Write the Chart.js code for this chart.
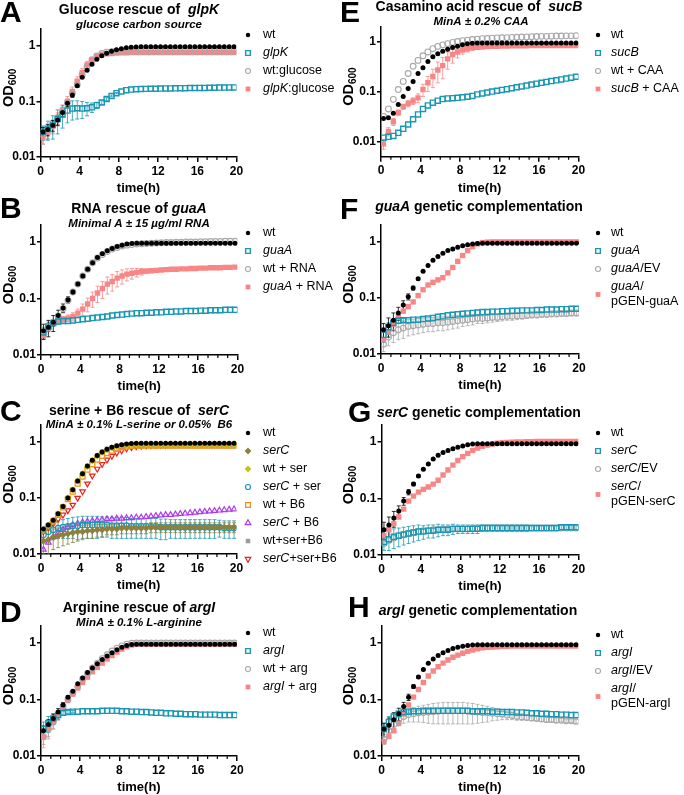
<!DOCTYPE html>
<html><head><meta charset="utf-8">
<script src="https://cdn.jsdelivr.net/npm/chart.js@4.4.1/dist/chart.umd.min.js"></script>
<style>
html,body{margin:0;padding:0;background:#fff;}
#wrap{position:relative;width:684px;height:795px;overflow:hidden;background:#fff;}
canvas{position:absolute;}
</style></head><body><div id="wrap"></div>
<script>
// ---------- shared axis data ----------
const T = [0.25,0.75,1.25,1.75,2.25,2.75,3.25,3.75,4.25,4.75,5.25,5.75,6.25,6.75,7.25,7.75,8.25,8.75,9.25,9.75,
           10.25,10.75,11.25,11.75,12.25,12.75,13.25,13.75,14.25,14.75,15.25,15.75,16.25,16.75,17.25,17.75,18.25,18.75,19.25,19.75];
const X_TICKS = [0,4,8,12,16,20];
const X_MINOR = [1,2,3,5,6,7,9,10,11,13,14,15,17,18,19];
const Y_TICKS = [0.01,0.1,1];
const Y_LABELS = ['0.01','0.1','1'];
const X_TITLE = 'time(h)';

// ---------- Panel A ----------
const A_TITLE = 'Glucose rescue of  <i>glpK</i>';
const A_SUB = 'glucose carbon source';
const A_LABELS = ['wt','<i>glpK</i>','wt:glucose','<i>glpK</i>:glucose'];
const A_wt = [0.028,0.031,0.037,0.046,0.063,0.092,0.13,0.19,0.27,0.36,0.46,0.57,0.66,0.73,0.79,0.84,0.88,0.91,0.93,0.94,
  0.95,0.95,0.95,0.95,0.95,0.95,0.95,0.95,0.95,0.95,0.95,0.95,0.95,0.95,0.95,0.95,0.95,0.95,0.95,0.95];
const A_wt_err = [0.006,0.007,0.008,0.009,0.01,0.012,0.012,0.012,0.01,0.008,0.006,0.005,0.004,0.003];
const A_glpK = [0.028,0.032,0.038,0.048,0.058,0.068,0.074,0.075,0.074,0.075,0.078,0.085,0.095,0.11,0.125,0.14,0.15,0.158,0.162,0.165,
  0.166,0.167,0.168,0.168,0.169,0.17,0.17,0.171,0.172,0.172,0.173,0.173,0.174,0.174,0.175,0.175,0.176,0.176,0.177,0.177];
const A_glpK_err = [0.008,0.012,0.017,0.022,0.025,0.027,0.028,0.027,0.025,0.02,0.015,0.011,0.008,0.006,0.005,0.004];
const A_wtglc = [0.025,0.03,0.036,0.047,0.065,0.095,0.14,0.2,0.3,0.42,0.55,0.65,0.72,0.76,0.78,0.79,0.79,0.79,0.79,0.79,
  0.79,0.79,0.79,0.79,0.79,0.79,0.79,0.79,0.79,0.79,0.79,0.79,0.79,0.79,0.79,0.79,0.79,0.79,0.79,0.79];
const A_wtglc_err = [0.008,0.009,0.01,0.011,0.012,0.013,0.015,0.02,0.03,0.04,0.05,0.05,0.04,0.03,0.02];
const A_glpKglc = [0.022,0.028,0.036,0.05,0.07,0.1,0.15,0.23,0.33,0.45,0.55,0.63,0.68,0.71,0.72,0.73,0.74,0.74,0.75,0.75,
  0.75,0.75,0.75,0.75,0.75,0.75,0.75,0.75,0.75,0.75,0.75,0.75,0.75,0.75,0.75,0.75,0.75,0.75,0.75,0.75];
const A_glpKglc_err = [0.005,0.007,0.009,0.012,0.016,0.022,0.03,0.045,0.06,0.07,0.07,0.06,0.05,0.04,0.03,0.02];

// ---------- Panel B ----------
const B_TITLE = 'RNA rescue of <i>guaA</i>';
const B_SUB = 'Minimal A ± 15 µg/ml RNA';
const B_LABELS = ['wt','<i>guaA</i>','wt + RNA','<i>guaA</i> + RNA'];
const B_wt = [0.027,0.031,0.038,0.05,0.068,0.095,0.13,0.18,0.25,0.33,0.43,0.53,0.62,0.7,0.77,0.83,0.88,0.92,0.94,0.95,
  0.95,0.95,0.95,0.95,0.95,0.95,0.95,0.95,0.95,0.95,0.95,0.95,0.95,0.95,0.95,0.95,0.95,0.95,0.95,0.95];
const B_wt_err = [0.008,0.01,0.012,0.012,0.012,0.012,0.012,0.012,0.01,0.008];
const B_guaA = [0.025,0.032,0.037,0.039,0.04,0.04,0.041,0.042,0.043,0.044,0.045,0.046,0.047,0.048,0.05,0.051,0.052,0.053,0.054,0.055,
  0.055,0.056,0.056,0.057,0.057,0.058,0.058,0.059,0.059,0.06,0.06,0.06,0.061,0.061,0.062,0.062,0.062,0.063,0.063,0.063];
const B_guaA_err = [0.006,0.006,0.005,0.004];
const B_wtRNA = [0.025,0.03,0.037,0.049,0.066,0.092,0.13,0.18,0.25,0.33,0.43,0.52,0.6,0.68,0.75,0.8,0.85,0.88,0.9,0.92,
  0.93,0.94,0.95,0.96,0.97,0.98,0.98,0.99,0.99,1.0,1.0,1.0,1.01,1.01,1.02,1.02,1.02,1.03,1.03,1.03];
const B_guaARNA = [0.022,0.03,0.037,0.04,0.043,0.045,0.048,0.055,0.065,0.08,0.1,0.125,0.15,0.18,0.2,0.23,0.25,0.27,0.28,0.29,
  0.3,0.305,0.31,0.315,0.32,0.325,0.33,0.33,0.335,0.335,0.34,0.34,0.345,0.345,0.35,0.35,0.35,0.355,0.355,0.36];
const B_guaARNA_err = [0.003,0.004,0.004,0.005,0.005,0.006,0.008,0.01,0.015,0.022,0.03,0.04,0.05,0.06,0.065,0.07,0.07,0.065,0.06,0.05,
  0.04,0.03,0.02,0.015,0.012,0.01];

// ---------- Panel C ----------
const C_TITLE = 'serine + B6 rescue of  <i>serC</i>';
const C_SUB = 'MinA ± 0.1% L-serine or 0.05%  B6';
const C_LABELS = ['wt','<i>serC</i>','wt + ser','<i>serC</i> + ser','wt + B6','<i>serC</i> + B6','wt+ser+B6','<i>serC</i>+ser+B6'];
const C_wt = [0.028,0.033,0.04,0.052,0.07,0.1,0.14,0.2,0.27,0.37,0.47,0.57,0.66,0.74,0.8,0.85,0.89,0.92,0.94,0.95,
  0.95,0.95,0.95,0.95,0.95,0.95,0.95,0.95,0.95,0.95,0.95,0.95,0.95,0.95,0.95,0.95,0.95,0.95,0.95,0.95];
const C_serC = [0.017,0.018,0.02,0.021,0.022,0.023,0.024,0.025,0.025,0.026,0.026,0.027,0.027,0.028,0.028,0.028,0.029,0.029,0.029,0.029,
  0.029,0.029,0.03,0.03,0.03,0.03,0.03,0.03,0.03,0.03,0.03,0.03,0.03,0.03,0.03,0.03,0.03,0.03,0.03,0.03];
const C_serC_err = [0.007,0.008,0.008,0.008,0.008,0.008,0.008,0.008,0.007,0.007,0.007,0.007,0.007,0.006,0.006,0.006,0.006,0.006,0.006,0.006,
  0.006,0.006,0.006,0.006,0.006,0.006,0.006,0.006,0.006,0.006,0.006,0.006,0.006,0.006,0.006,0.006,0.006,0.006,0.006,0.006];
const C_wtser = [0.027,0.032,0.04,0.052,0.07,0.1,0.14,0.2,0.27,0.36,0.46,0.56,0.65,0.72,0.78,0.82,0.86,0.88,0.89,0.9,
  0.9,0.9,0.9,0.9,0.9,0.9,0.9,0.9,0.9,0.9,0.9,0.9,0.9,0.9,0.9,0.9,0.9,0.9,0.9,0.9];
const C_serCser = [0.022,0.025,0.027,0.029,0.03,0.031,0.032,0.032,0.033,0.033,0.033,0.033,0.033,0.033,0.032,0.032,0.032,0.032,0.031,0.031,
  0.031,0.031,0.031,0.031,0.03,0.03,0.03,0.03,0.03,0.03,0.03,0.03,0.03,0.03,0.03,0.03,0.03,0.029,0.029,0.029];
const C_serCser_err = [0.005,0.007,0.009,0.01,0.011,0.012,0.013,0.014,0.014,0.014,0.014,0.014,0.013,0.013,0.013,0.013,0.013,0.013,0.012,0.012,
  0.012,0.012,0.012,0.012,0.012,0.012,0.011,0.011,0.011,0.011,0.011,0.011,0.011,0.011,0.011,0.011,0.01,0.01,0.01,0.01];
const C_wtB6 = [0.026,0.031,0.038,0.05,0.068,0.095,0.13,0.18,0.24,0.32,0.4,0.48,0.56,0.63,0.7,0.75,0.8,0.83,0.85,0.86,
  0.86,0.86,0.86,0.86,0.86,0.86,0.86,0.86,0.86,0.86,0.86,0.86,0.86,0.86,0.86,0.86,0.86,0.86,0.86,0.86];
const C_serCB6 = [0.012,0.016,0.02,0.024,0.027,0.03,0.033,0.035,0.037,0.038,0.039,0.04,0.041,0.042,0.042,0.043,0.043,0.044,0.044,0.045,
  0.045,0.046,0.047,0.048,0.049,0.05,0.05,0.051,0.052,0.053,0.054,0.055,0.056,0.057,0.058,0.059,0.06,0.061,0.062,0.063];
const C_wtserB6 = [0.028,0.033,0.04,0.052,0.07,0.1,0.14,0.2,0.27,0.37,0.47,0.57,0.66,0.74,0.8,0.84,0.87,0.89,0.9,0.9,
  0.9,0.9,0.9,0.9,0.9,0.9,0.9,0.9,0.9,0.9,0.9,0.9,0.9,0.9,0.9,0.9,0.9,0.9,0.9,0.9];
const C_serCserB6 = [0.025,0.03,0.035,0.042,0.05,0.06,0.075,0.1,0.13,0.18,0.25,0.33,0.4,0.48,0.56,0.64,0.7,0.76,0.8,0.83,
  0.85,0.86,0.87,0.88,0.88,0.88,0.89,0.89,0.89,0.89,0.89,0.89,0.89,0.89,0.89,0.89,0.89,0.89,0.89,0.89];

// ---------- Panel D ----------
const D_TITLE = 'Arginine rescue of <i>argI</i>';
const D_SUB = 'MinA ± 0.1% L-arginine';
const D_LABELS = ['wt','<i>argI</i>','wt + arg','<i>argI</i> + arg'];
const D_wt = [0.028,0.036,0.046,0.06,0.08,0.11,0.14,0.19,0.24,0.3,0.36,0.43,0.51,0.59,0.67,0.76,0.84,0.9,0.94,0.95,
  0.95,0.95,0.95,0.95,0.95,0.95,0.95,0.95,0.95,0.95,0.95,0.95,0.95,0.95,0.95,0.95,0.95,0.95,0.95,0.95];
const D_wt_err = [0.006,0.008,0.009,0.009,0.008,0.007,0.006];
const D_argI = [0.03,0.038,0.046,0.053,0.058,0.06,0.061,0.061,0.062,0.062,0.062,0.062,0.063,0.063,0.063,0.063,0.062,0.062,0.061,0.061,
  0.06,0.06,0.059,0.058,0.058,0.057,0.057,0.056,0.056,0.055,0.055,0.055,0.054,0.054,0.054,0.054,0.053,0.053,0.053,0.053];
const D_argI_err = [0.01,0.012,0.01,0.008,0.005,0.004,0.003];
const D_wtarg = [0.022,0.03,0.04,0.054,0.075,0.1,0.13,0.17,0.23,0.29,0.36,0.44,0.53,0.62,0.72,0.81,0.89,0.95,0.99,1.0,
  1.0,1.0,1.0,1.0,1.0,1.0,1.0,1.0,1.0,1.0,1.0,1.0,1.0,1.0,1.0,1.0,1.0,1.0,1.0,1.0];
const D_wtarg_err = [0.008,0.01,0.01,0.01,0.01,0.01];
const D_argIarg = [0.022,0.03,0.04,0.053,0.072,0.097,0.125,0.16,0.2,0.25,0.31,0.37,0.44,0.52,0.6,0.69,0.78,0.86,0.92,0.95,
  0.95,0.95,0.95,0.95,0.95,0.95,0.95,0.95,0.95,0.95,0.95,0.95,0.95,0.95,0.95,0.95,0.95,0.95,0.95,0.95];
const D_argIarg_err = [0.006,0.008,0.01,0.01,0.01,0.01,0.01,0.012,0.015,0.02,0.02,0.02,0.02];

// ---------- Panel E ----------
const E_TITLE = 'Casamino acid rescue of  <i>sucB</i>';
const E_SUB = 'MinA ± 0.2% CAA';
const E_LABELS = ['wt','<i>sucB</i>','wt + CAA','<i>sucB</i> + CAA'];
const E_wt = [0.029,0.03,0.037,0.055,0.08,0.115,0.16,0.23,0.3,0.4,0.5,0.57,0.64,0.7,0.76,0.81,0.86,0.9,0.93,0.94,
  0.94,0.94,0.94,0.94,0.94,0.94,0.94,0.94,0.94,0.94,0.94,0.94,0.94,0.94,0.94,0.94,0.94,0.94,0.94,0.94];
const E_sucB = [0.012,0.0125,0.013,0.015,0.018,0.022,0.028,0.035,0.045,0.053,0.06,0.066,0.071,0.073,0.074,0.075,0.077,0.079,0.082,0.088,
  0.092,0.096,0.1,0.104,0.108,0.112,0.117,0.122,0.127,0.132,0.138,0.144,0.15,0.156,0.162,0.168,0.175,0.182,0.19,0.198];
const E_wtCAA = [0.032,0.045,0.07,0.11,0.16,0.23,0.32,0.42,0.52,0.62,0.72,0.8,0.86,0.91,0.96,1.0,1.04,1.07,1.1,1.12,
  1.14,1.15,1.17,1.18,1.19,1.2,1.21,1.22,1.23,1.24,1.25,1.26,1.27,1.27,1.28,1.29,1.29,1.3,1.3,1.31];
const E_sucBCAA = [0.009,0.016,0.025,0.038,0.05,0.058,0.065,0.075,0.11,0.15,0.2,0.27,0.33,0.45,0.55,0.62,0.68,0.72,0.75,0.77,
  0.78,0.79,0.8,0.8,0.81,0.81,0.82,0.82,0.82,0.82,0.83,0.83,0.83,0.83,0.83,0.83,0.83,0.83,0.83,0.83];
const E_sucBCAA_err = [0.002,0.003,0.004,0.005,0.006,0.008,0.01,0.015,0.03,0.05,0.08,0.12,0.15,0.17,0.18,0.15,0.12,0.1,0.08,0.06,
  0.05,0.04,0.04,0.03,0.03,0.02,0.02];

// ---------- Panel F ----------
const F_TITLE = '<i>guaA</i> genetic complementation';
const F_LABELS = ['wt','<i>guaA</i>','<i>guaA</i>/EV','<i>guaA</i>/\npGEN-guaA'];
const F_wt = [0.027,0.032,0.04,0.054,0.075,0.105,0.15,0.22,0.3,0.38,0.47,0.55,0.63,0.7,0.75,0.8,0.85,0.89,0.92,0.94,
  0.95,0.95,0.95,0.95,0.95,0.95,0.95,0.95,0.95,0.95,0.95,0.95,0.95,0.95,0.95,0.95,0.95,0.95,0.95,0.95];
const F_wt_err = [0.008,0.012,0.014,0.014,0.014,0.013,0.012,0.01,0.008,0.006];
const F_guaA = [0.022,0.03,0.036,0.039,0.04,0.04,0.041,0.041,0.042,0.043,0.044,0.046,0.047,0.049,0.05,0.051,0.052,0.053,0.054,0.055,
  0.056,0.056,0.057,0.057,0.058,0.058,0.059,0.059,0.06,0.06,0.06,0.061,0.061,0.062,0.062,0.062,0.063,0.063,0.064,0.064];
const F_guaA_err = [0.006,0.006,0.005,0.004,0.003];
const F_guaAEV = [0.015,0.02,0.024,0.027,0.029,0.031,0.032,0.033,0.034,0.035,0.035,0.036,0.036,0.037,0.038,0.039,0.04,0.041,0.042,0.043,
  0.043,0.044,0.045,0.045,0.046,0.047,0.047,0.048,0.048,0.049,0.05,0.05,0.051,0.051,0.052,0.052,0.053,0.053,0.054,0.054];
const F_guaAEV_err = [0.004,0.006,0.008,0.009,0.01,0.01,0.01,0.01,0.01,0.01,0.01,0.01,0.01,0.01,0.01,0.01,0.009,0.009,0.009,0.008,
  0.008,0.008,0.008,0.007,0.007,0.007,0.007,0.007,0.006,0.006,0.006,0.006,0.006,0.006,0.006,0.006,0.006,0.006,0.006,0.006];
const F_guaApGEN = [0.018,0.025,0.034,0.045,0.058,0.07,0.085,0.11,0.14,0.17,0.19,0.21,0.23,0.28,0.35,0.45,0.57,0.7,0.82,0.92,
  0.97,0.99,1.0,1.0,1.0,1.0,1.0,1.0,1.0,1.0,1.0,1.0,1.0,1.0,1.0,1.0,1.0,1.0,1.0,1.0];

// ---------- Panel G ----------
const G_TITLE = '<i>serC</i> genetic complementation';
const G_LABELS = ['wt','<i>serC</i>','<i>serC</i>/EV','<i>serC</i>/\npGEN-serC'];
const G_wt = [0.028,0.034,0.045,0.06,0.09,0.13,0.18,0.25,0.33,0.41,0.5,0.58,0.65,0.71,0.76,0.81,0.85,0.89,0.92,0.93,
  0.93,0.93,0.93,0.93,0.93,0.93,0.93,0.93,0.93,0.93,0.93,0.93,0.93,0.93,0.93,0.93,0.93,0.93,0.93,0.93];
const G_wt_err = [0.01,0.013,0.014,0.014,0.014,0.014,0.013,0.012,0.01,0.008,0.006];
const G_serC = [0.017,0.019,0.021,0.022,0.023,0.024,0.025,0.026,0.026,0.027,0.027,0.028,0.028,0.028,0.029,0.029,0.029,0.029,0.029,0.029,
  0.03,0.03,0.03,0.03,0.03,0.03,0.03,0.03,0.03,0.03,0.03,0.03,0.03,0.03,0.03,0.03,0.031,0.031,0.031,0.031];
const G_serC_err = [0.005,0.007,0.008,0.008,0.008,0.008,0.008,0.008,0.007,0.007,0.007,0.007,0.006,0.006,0.006,0.005,0.005,0.005,0.005,0.005,
  0.004,0.004,0.004,0.004,0.004,0.004,0.004,0.004,0.004,0.004,0.003,0.003,0.003,0.003,0.003,0.003,0.003,0.003,0.003,0.003];
const G_serCEV = [0.016,0.018,0.02,0.022,0.023,0.024,0.025,0.026,0.027,0.027,0.028,0.028,0.028,0.029,0.029,0.029,0.029,0.029,0.03,0.03,
  0.03,0.03,0.03,0.03,0.03,0.03,0.03,0.03,0.03,0.03,0.03,0.03,0.03,0.03,0.03,0.03,0.03,0.03,0.03,0.03];
const G_serCpGEN = [0.022,0.028,0.036,0.047,0.065,0.09,0.11,0.13,0.145,0.16,0.18,0.21,0.26,0.32,0.39,0.47,0.55,0.63,0.71,0.78,
  0.84,0.88,0.92,0.95,0.97,0.98,0.99,1.0,1.0,1.01,1.01,1.02,1.02,1.02,1.02,1.02,1.02,1.02,1.02,1.02];

// ---------- Panel H ----------
const H_TITLE = '<i>argI</i> genetic complementation';
const H_LABELS = ['wt','<i>argI</i>','<i>argI</i>/EV','<i>argI</i>/\npGEN-argI'];
const H_wt = [0.03,0.035,0.044,0.056,0.075,0.11,0.17,0.25,0.34,0.44,0.52,0.6,0.67,0.74,0.8,0.84,0.88,0.9,0.92,0.93,
  0.93,0.93,0.93,0.93,0.93,0.93,0.93,0.93,0.93,0.93,0.93,0.93,0.93,0.93,0.93,0.93,0.93,0.93,0.93,0.93];
const H_wt_err = [0.008,0.012,0.014,0.014,0.014,0.014,0.013,0.012,0.01,0.008];
const H_argI = [0.03,0.04,0.05,0.056,0.06,0.061,0.062,0.062,0.063,0.063,0.063,0.063,0.063,0.063,0.063,0.063,0.063,0.063,0.062,0.062,
  0.062,0.062,0.061,0.061,0.06,0.06,0.06,0.059,0.059,0.058,0.057,0.057,0.056,0.056,0.055,0.055,0.054,0.054,0.053,0.053];
const H_argI_err = [0.008,0.01,0.008,0.006,0.005,0.004];
const H_argIEV = [0.02,0.028,0.036,0.044,0.05,0.054,0.056,0.058,0.059,0.06,0.061,0.062,0.063,0.063,0.063,0.063,0.063,0.062,0.061,0.06,
  0.059,0.058,0.057,0.056,0.055,0.053,0.052,0.05,0.049,0.048,0.047,0.046,0.045,0.044,0.044,0.043,0.043,0.042,0.042,0.041];
const H_argIEV_err = [0.004,0.006,0.008,0.01,0.012,0.014,0.016,0.018,0.02,0.022,0.024,0.025,0.026,0.026,0.026,0.026,0.026,0.025,0.024,0.022,
  0.02,0.018,0.015,0.013,0.011,0.009,0.008,0.007,0.006,0.005,0.005,0.004,0.004,0.004,0.004,0.004,0.003,0.003,0.003,0.003];
const H_argIpGEN = [0.018,0.022,0.028,0.038,0.055,0.08,0.11,0.15,0.2,0.26,0.32,0.38,0.44,0.5,0.56,0.61,0.66,0.71,0.75,0.79,
  0.82,0.84,0.85,0.86,0.87,0.87,0.88,0.88,0.88,0.88,0.88,0.88,0.88,0.88,0.88,0.88,0.88,0.88,0.88,0.88];

// ---------- styles ----------
const CLEAR = 'rgba(0,0,0,0)';
const STY = {
  wt:  {ps:'circle',  r:2.5, lr:2.2, bg:'#000000', bc:'#000000', bw:0},
  cy:  {ps:'rect',    r:3.6, lr:3.3, bg:CLEAR,     bc:'#1a98b3', bw:1.4},
  gr:  {ps:'circle',  r:2.9, lr:2.5, bg:CLEAR,     bc:'#a8a8a8', bw:1.1},
  pk:  {ps:'rect',    r:3.8, lr:3.4, bg:'#f88686', bc:'#f88686', bw:0},
  ol:  {ps:'rectRot', r:3.6, lr:3.4, bg:'#8e7f3e', bc:'#8e7f3e', bw:0},
  yl:  {ps:'rectRot', r:3.6, lr:3.4, bg:'#c4c41c', bc:'#c4c41c', bw:0},
  cyc: {ps:'circle',  r:2.8, lr:2.5, bg:CLEAR,     bc:'#1a98b3', bw:1.2},
  or:  {ps:'rect',    r:3.5, lr:3.3, bg:CLEAR,     bc:'#f29020', bw:1.3},
  pu:  {ps:'triangle',r:3.2, lr:3.2, bg:CLEAR,     bc:'#b03ae8', bw:1.2},
  gf:  {ps:'rect',    r:3.4, lr:3.2, bg:'#9b9b9b', bc:'#9b9b9b', bw:0},
  rd:  {ps:'triangle',r:3.2, lr:3.2, bg:CLEAR,     bc:'#e8221c', bw:1.2, rot:180}
};

// ---------- layout (positions, not data) ----------
const COLS = [{x:0,w:340},{x:340,w:344}];
const ROWS = [{y:0,h:195},{y:195,h:200},{y:395,h:200},{y:595,h:200}];
const PANELS = [
  {letter:'A',col:0,row:0,plot:{l:40.5,r:236.5,t:28.8,b:157},ymin:0.01,ymax:2,L:{x:0,y:14},ti:{x:139,y:10,s:A_TITLE},su:{x:139,y:25,s:A_SUB},leg:35,labels:A_LABELS,
   series:[[A_wt,A_wt_err,'wt'],[A_glpK,A_glpK_err,'cy'],[A_wtglc,A_wtglc_err,'gr'],[A_glpKglc,A_glpKglc_err,'pk']]},
  {letter:'B',col:0,row:1,plot:{l:41,r:237.5,t:225,b:355},ymin:0.01,ymax:2,L:{x:0,y:210},ti:{x:139,y:209,s:B_TITLE},su:{x:139,y:224,s:B_SUB},leg:233,labels:B_LABELS,
   series:[[B_wt,B_wt_err,'wt'],[B_guaA,B_guaA_err,'cy'],[B_wtRNA,null,'gr'],[B_guaARNA,B_guaARNA_err,'pk']]},
  {letter:'C',col:0,row:2,plot:{l:41,r:236.5,t:425,b:554},ymin:0.01,ymax:2,L:{x:0,y:413},ti:{x:139,y:411,s:C_TITLE},su:{x:139,y:424.5,s:C_SUB},leg:433,labels:C_LABELS,
   series:[[C_wt,null,'wt'],[C_serC,C_serC_err,'ol'],[C_wtser,null,'yl'],[C_serCser,C_serCser_err,'cyc'],[C_wtB6,null,'or'],[C_serCB6,null,'pu'],[C_wtserB6,null,'gf'],[C_serCserB6,null,'rd']]},
  {letter:'D',col:0,row:3,plot:{l:41,r:237,t:626,b:756},ymin:0.01,ymax:2,L:{x:0,y:614},ti:{x:139,y:608,s:D_TITLE},su:{x:139,y:623,s:D_SUB},leg:633,labels:D_LABELS,
   series:[[D_wt,D_wt_err,'wt'],[D_argI,D_argI_err,'cy'],[D_wtarg,D_wtarg_err,'gr'],[D_argIarg,D_argIarg_err,'pk']]},
  {letter:'E',col:1,row:0,plot:{l:381,r:578.5,t:26.5,b:156.7},ymin:0.005,ymax:2,L:{x:340,y:14},ti:{x:479,y:7.5,s:E_TITLE},su:{x:481,y:22,s:E_SUB},leg:35,labels:E_LABELS,
   series:[[E_wt,null,'wt'],[E_sucB,null,'cy'],[E_wtCAA,null,'gr'],[E_sucBCAA,E_sucBCAA_err,'pk']]},
  {letter:'F',col:1,row:1,plot:{l:381,r:579,t:225,b:354},ymin:0.01,ymax:2,L:{x:340,y:211},ti:{x:479,y:207.5,s:F_TITLE},su:null,leg:233,labels:F_LABELS,
   series:[[F_wt,F_wt_err,'wt'],[F_guaA,F_guaA_err,'cy'],[F_guaAEV,F_guaAEV_err,'gr'],[F_guaApGEN,null,'pk']]},
  {letter:'G',col:1,row:2,plot:{l:381.5,r:578.5,t:425,b:555},ymin:0.01,ymax:2,L:{x:348,y:414},ti:{x:479,y:413,s:G_TITLE},su:null,leg:433,labels:G_LABELS,
   series:[[G_wt,G_wt_err,'wt'],[G_serC,G_serC_err,'cy'],[G_serCEV,null,'gr'],[G_serCpGEN,null,'pk']]},
  {letter:'H',col:1,row:3,plot:{l:381.5,r:578.5,t:626,b:756},ymin:0.01,ymax:2,L:{x:348,y:609},ti:{x:478,y:611,s:H_TITLE},su:null,leg:635,labels:H_LABELS,
   series:[[H_wt,H_wt_err,'wt'],[H_argI,H_argI_err,'cy'],[H_argIEV,H_argIEV_err,'gr'],[H_argIpGEN,null,'pk']]}
];

const FAM = '"Liberation Sans", Arial, Helvetica, sans-serif';
const YW = 30, XH = 20;

function parseRich(s){
  const out=[]; const re=/<i>(.*?)<\/i>/g; let last=0,m;
  while((m=re.exec(s))){ if(m.index>last) out.push({t:s.slice(last,m.index),i:false}); out.push({t:m[1],i:true}); last=re.lastIndex; }
  if(last<s.length) out.push({t:s.slice(last),i:false});
  return out;
}
function drawRich(ctx,s,x,y,size,weight,align,allItalic){
  const segs=parseRich(s);
  const fonts=segs.map(g=>`${(g.i||allItalic)?'italic ':''}${weight} ${size}px ${FAM}`);
  let w=0; const ws=segs.map((g,k)=>{ctx.font=fonts[k]; const m=ctx.measureText(g.t).width; w+=m; return m;});
  let cx = align==='center' ? x-w/2 : x;
  ctx.textBaseline='middle'; ctx.textAlign='left'; ctx.fillStyle='#000';
  segs.forEach((g,k)=>{ctx.font=fonts[k]; ctx.fillText(g.t,cx,y); cx+=ws[k];});
}

const wrap=document.getElementById('wrap');
PANELS.forEach(p=>{
  const C=COLS[p.col], R=ROWS[p.row];
  const cv=document.createElement('canvas');
  cv.width=C.w; cv.height=R.h; cv.style.left=C.x+'px'; cv.style.top=R.y+'px';
  wrap.appendChild(cv);
  const ox=C.x, oy=R.y;
  const pad={left:(p.plot.l-ox)-YW, right:(ox+C.w)-p.plot.r, top:p.plot.t-oy, bottom:(oy+R.h)-p.plot.b-XH};
  const datasets=p.series.map((s,k)=>{
    const st=STY[s[2]];
    return {label:p.labels[k], data:T.map((t,i)=>({x:t,y:s[0][i]})), errs:s[1], errColor:(st.bw>0?st.bc:st.bg),
      showLine:false, pointStyle:st.ps, pointRadius:st.r, pointRotation:st.rot||0,
      pointBackgroundColor:st.bg, pointBorderColor:st.bc, pointBorderWidth:st.bw, sty:st};
  });
  const plugin={
    id:'panel'+p.letter,
    beforeDatasetsDraw(chart){
      const ctx=chart.ctx, ys=chart.scales.y, a=chart.chartArea;
      ctx.save(); ctx.beginPath(); ctx.rect(a.left,a.top-2,a.right-a.left+4,a.bottom-a.top+2); ctx.clip();
      for(let d=chart.data.datasets.length-1; d>=0; d--){
        const ds=chart.data.datasets[d]; if(!ds.errs) continue;
        const meta=chart.getDatasetMeta(d);
        ctx.strokeStyle=ds.errColor; ctx.lineWidth=0.8;
        ds.errs.forEach((e,i)=>{
          if(!e || i>=meta.data.length) return;
          const pt=meta.data[i], v=ds.data[i].y;
          const y1=ys.getPixelForValue(v+e), y2=ys.getPixelForValue(Math.max(v-e,1e-4));
          ctx.beginPath();
          ctx.moveTo(pt.x,y1); ctx.lineTo(pt.x,y2);
          ctx.moveTo(pt.x-2,y1); ctx.lineTo(pt.x+2,y1);
          ctx.moveTo(pt.x-2,y2); ctx.lineTo(pt.x+2,y2);
          ctx.stroke();
        });
      }
      ctx.restore();
    },
    afterDraw(chart){
      const ctx=chart.ctx, a=chart.chartArea, xs=chart.scales.x;
      ctx.save();
      ctx.strokeStyle='#000'; ctx.lineWidth=1.2;
      X_MINOR.forEach(v=>{const x=xs.getPixelForValue(v); ctx.beginPath(); ctx.moveTo(x,a.bottom); ctx.lineTo(x,a.bottom+3); ctx.stroke();});
      ctx.fillStyle='#000'; ctx.textBaseline='middle'; ctx.textAlign='left';
      ctx.font=`bold 30px ${FAM}`; ctx.fillText(p.letter,p.L.x-ox,p.L.y-oy);
      drawRich(ctx,p.ti.s,p.ti.x-ox,p.ti.y-oy,14,'bold','center',false);
      if(p.su) drawRich(ctx,p.su.s,p.su.x-ox,p.su.y-oy,11.5,'bold','center',true);
      ctx.font=`bold 13px ${FAM}`; ctx.textAlign='center'; ctx.textBaseline='middle'; ctx.fillStyle='#000';
      ctx.fillText(X_TITLE,(a.left+a.right)/2,a.bottom+31.5);
      const yx=(p.col===0?8:348)-ox, yy=(a.top+a.bottom)/2-5;
      ctx.save(); ctx.translate(yx,yy); ctx.rotate(-Math.PI/2);
      ctx.font=`bold 14.5px ${FAM}`; const w1=ctx.measureText('OD').width;
      ctx.font=`bold 10px ${FAM}`; const w2=ctx.measureText('600').width;
      ctx.textAlign='left'; ctx.textBaseline='alphabetic';
      ctx.font=`bold 14.5px ${FAM}`; ctx.fillText('OD',-(w1+w2)/2,5);
      ctx.font=`bold 10px ${FAM}`; ctx.fillText('600',-(w1+w2)/2+w1,8);
      ctx.restore();
      const mx=(p.col===0?248:598)-ox, tx=(p.col===0?263:611)-ox;
      let ry=p.leg-oy;
      chart.data.datasets.forEach(ds=>{
        const st=ds.sty, lines=ds.label.split('\n');
        const my = lines.length>1 ? ry+7.5 : ry;
        ctx.fillStyle=st.bg; ctx.strokeStyle=st.bc; ctx.lineWidth=st.bw;
        Chart.helpers.drawPoint(ctx,{pointStyle:st.ps,radius:st.lr,rotation:st.rot||0,borderWidth:st.bw},mx,my);
        lines.forEach((ln,k)=>drawRich(ctx,ln,tx,ry+k*15,12.5,'normal','left',false));
        ry+=18;
      });
      ctx.restore();
    }
  };
  new Chart(cv,{
    type:'scatter',
    data:{datasets},
    options:{
      responsive:false, animation:false, devicePixelRatio:1, events:[],
      layout:{autoPadding:false, padding:pad},
      plugins:{legend:{display:false}, tooltip:{enabled:false}, title:{display:false}},
      scales:{
        x:{type:'linear', min:0, max:20,
           afterBuildTicks:s=>{s.ticks=X_TICKS.map(v=>({value:v}));},
           afterFit:s=>{s.height=XH;},
           grid:{drawOnChartArea:false, color:'#000', lineWidth:1.5, tickLength:5},
           border:{color:'#000', width:1.5},
           ticks:{color:'#000', font:{family:FAM, size:12, weight:'bold'}, padding:2, maxRotation:0, autoSkip:false}},
        y:{type:'logarithmic', min:p.ymin, max:p.ymax,
           afterBuildTicks:s=>{s.ticks=Y_TICKS.map(v=>({value:v}));},
           afterFit:s=>{s.width=YW;},
           grid:{drawOnChartArea:false, color:'#000', lineWidth:1.5, tickLength:4},
           border:{color:'#000', width:1.5},
           ticks:{color:'#000', font:{family:FAM, size:12, weight:'bold'}, padding:1, autoSkip:false,
                  callback:(v)=>{const k=Y_TICKS.indexOf(v); return k>=0?Y_LABELS[k]:'';}}}
      }
    },
    plugins:[plugin]
  });
});
</script></body></html>
